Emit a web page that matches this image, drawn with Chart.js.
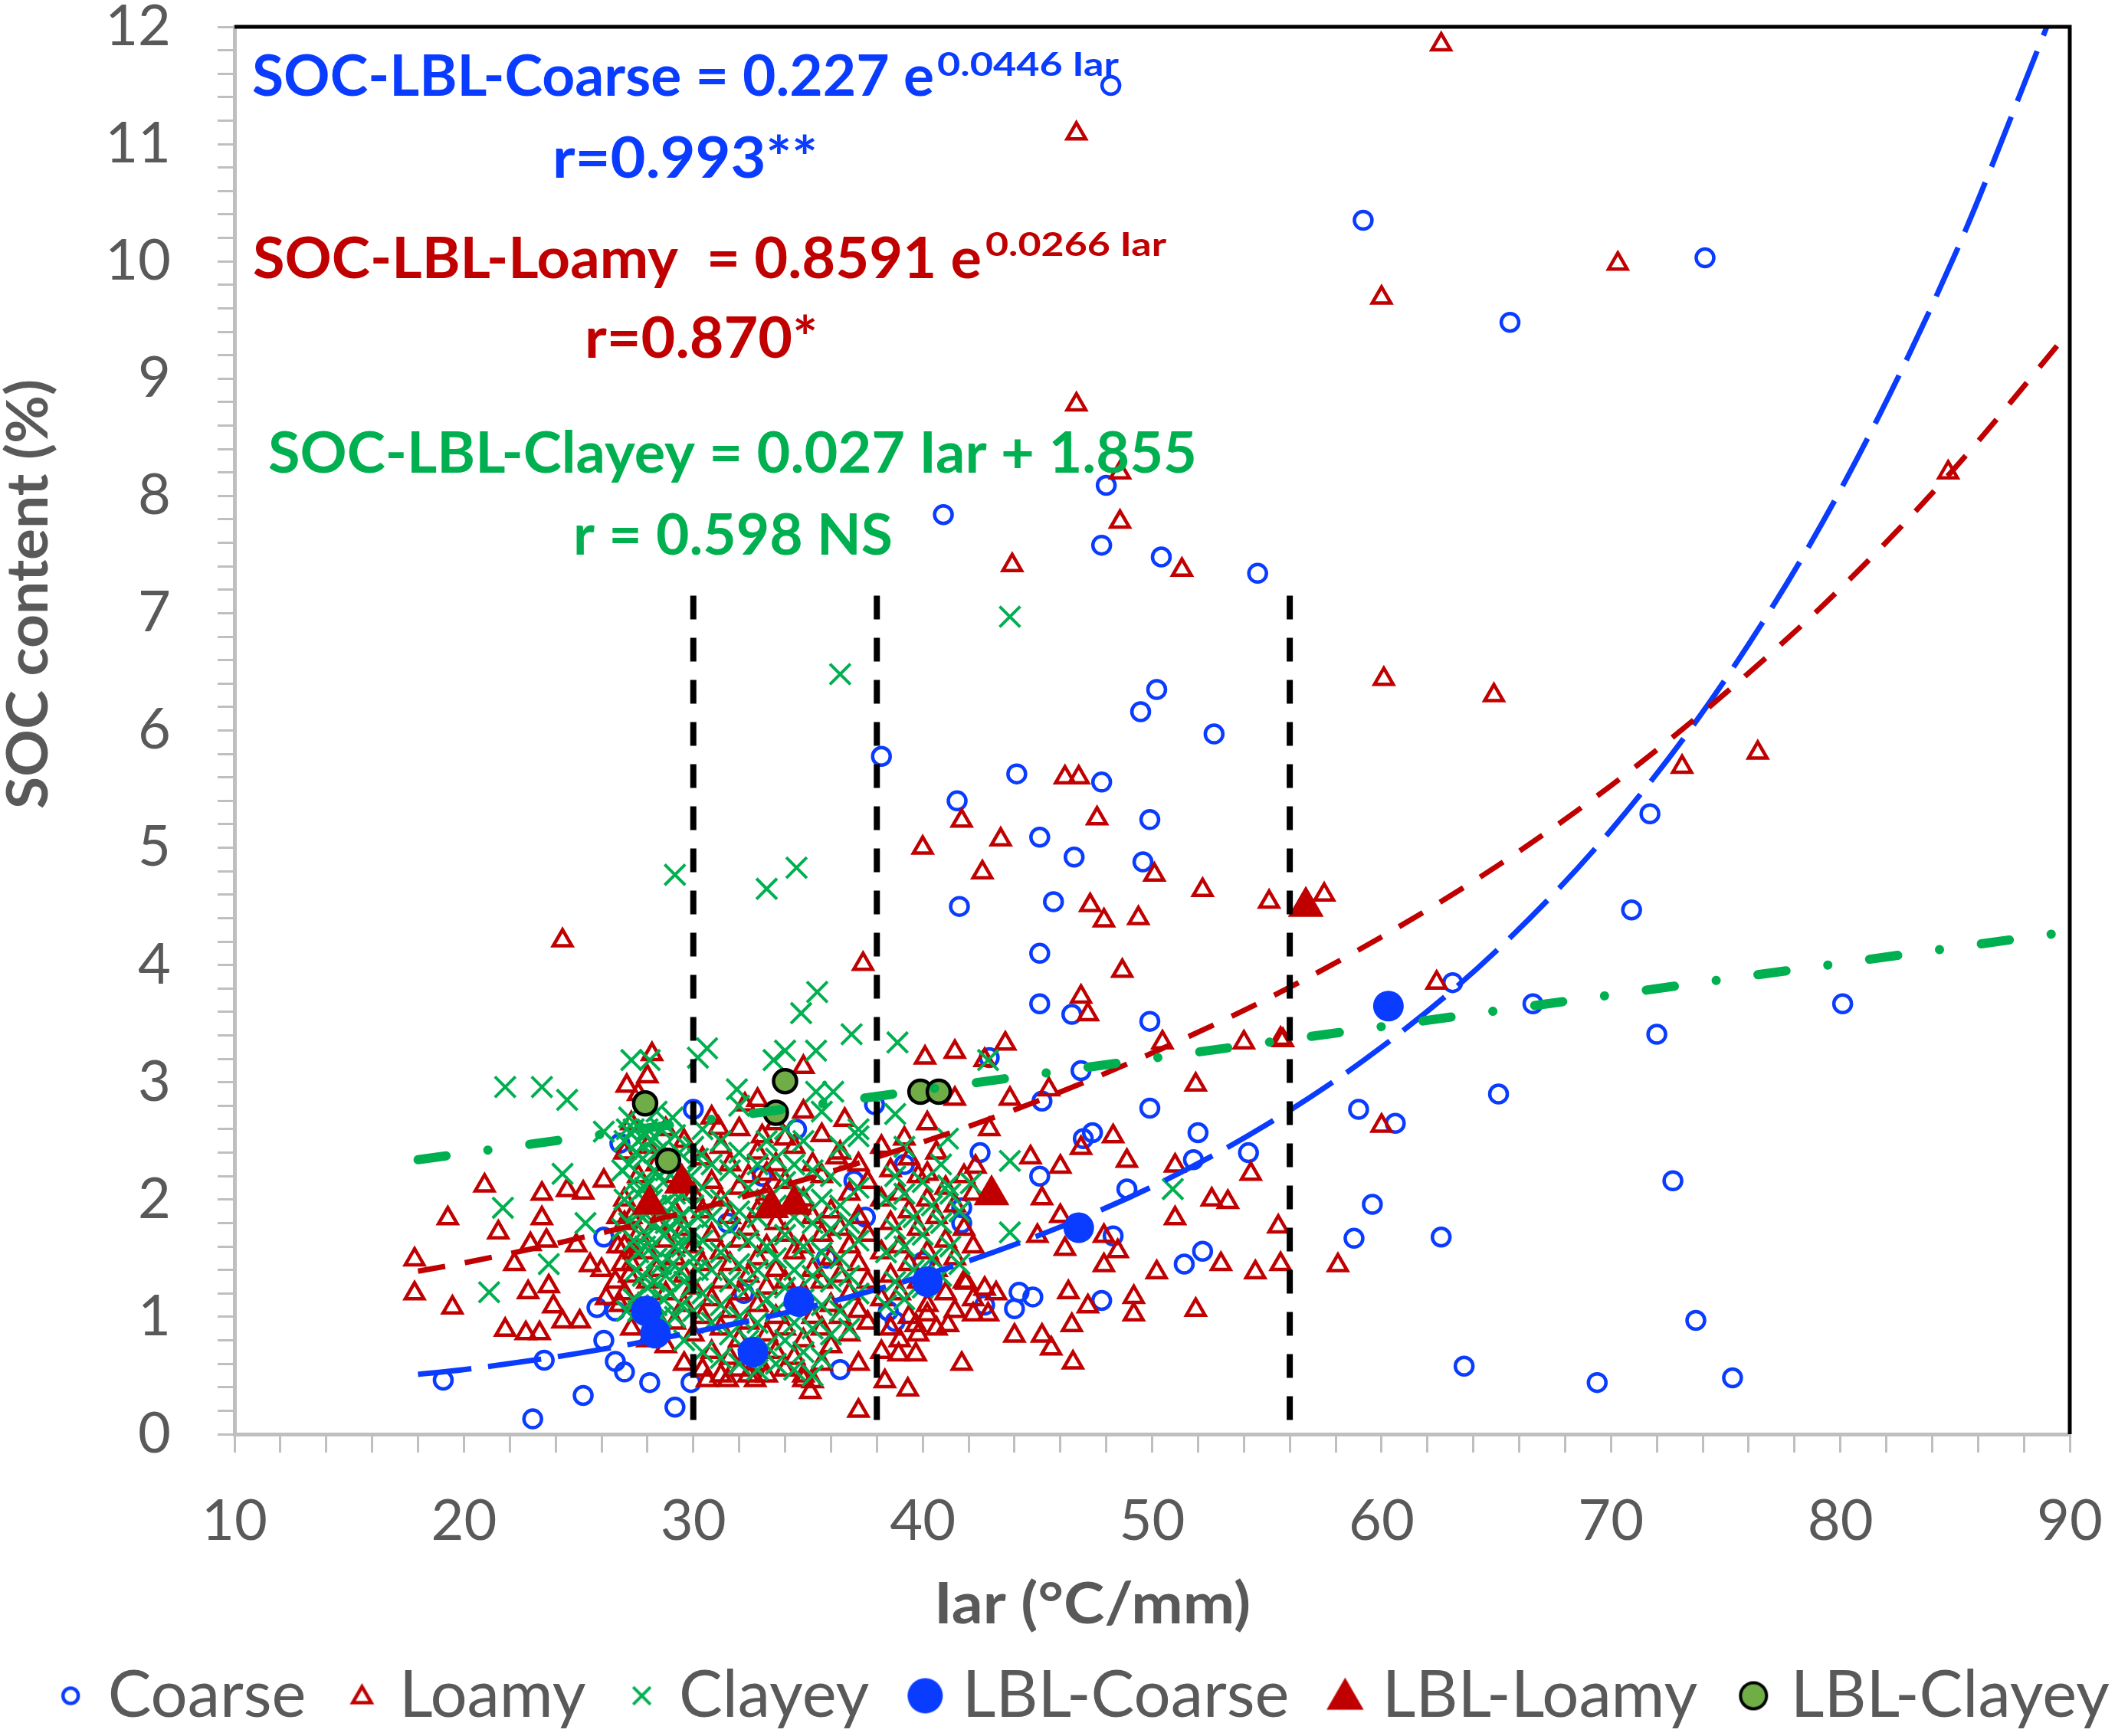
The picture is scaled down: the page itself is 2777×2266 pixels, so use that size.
<!DOCTYPE html>
<html>
<head>
<meta charset="utf-8">
<title>SOC content vs Iar</title>
<script src="https://cdn.jsdelivr.net/npm/chart.js@4.4.1/dist/chart.umd.min.js"></script>
<style>
  html, body { margin: 0; padding: 0; background: #fff; }
  #soc { display: block; }
</style>
</head>
<body>
<canvas id="soc" width="2777" height="2266"></canvas>
<script>
// ---- data: [Iar (°C/mm), SOC (%)] ----
const coarse = [
  [48.2,11.50],[59.2,10.35],[74.1,10.03],[65.6,9.48],[48.0,8.09],[40.9,7.84],[47.8,7.58],[50.4,7.48],[54.6,7.34],
  [38.2,5.78],[50.2,6.35],[49.5,6.16],[52.7,5.97],[41.5,5.40],[44.1,5.63],[47.8,5.56],[45.1,5.09],[49.9,5.24],
  [46.6,4.92],[49.6,4.88],[41.6,4.50],[45.7,4.54],[45.1,4.10],[45.1,3.67],[46.5,3.58],[49.9,3.52],[63.1,3.85],
  [66.6,3.67],[80.1,3.67],[72.0,3.41],[46.9,3.10],[49.9,2.78],[65.1,2.90],[59.0,2.77],[60.6,2.65],[47.0,2.52],
  [47.4,2.57],[52.0,2.57],[54.2,2.40],[51.8,2.34],[48.9,2.09],[72.7,2.16],[59.6,1.96],[58.8,1.67],[62.6,1.68],
  [71.7,5.29],[70.9,4.47],[52.2,1.56],[51.4,1.45],[48.3,1.69],[47.8,1.14],[44.8,1.17],[44.2,1.21],[44.0,1.07],
  [42.7,1.10],[73.7,0.97],[63.6,0.58],[69.4,0.44],[75.3,0.48],[45.1,2.20],[41.7,1.80],[41.7,1.93],[38.8,0.96],
  [37.0,2.16],[45.2,2.84],[42.9,3.21],[37.9,2.81],
  [19.1,0.46],[23.0,0.13],[23.5,0.63],[25.2,0.33],[25.8,1.08],[26.6,1.05],[26.1,0.80],[26.6,0.62],[27.0,0.53],
  [28.1,0.44],[29.2,0.23],[29.9,0.44],[26.1,1.68],[26.8,2.48],[30.0,2.77],
  [31.5,1.80],[33.0,2.20],[35.8,1.50],[37.5,1.85],[36.4,0.55],[40.0,1.47],[39.2,2.30],[32.2,1.20],[34.5,2.60],
  [42.5,2.40],[38.5,1.05]
];

const loamy = [
  [62.6,11.85],[46.7,11.09],[70.3,9.98],[60.0,9.69],[46.7,8.78],[48.6,8.20],[48.6,7.78],[43.9,7.41],[51.3,7.37],
  [60.1,6.44],[64.9,6.30],[84.7,8.20],[73.1,5.69],[76.4,5.81],[24.3,4.21],[37.4,4.01],[40.0,5.00],[41.7,5.23],
  [43.4,5.07],[46.2,5.60],[46.8,5.60],[47.6,5.25],[42.6,4.79],[50.1,4.77],[52.2,4.64],[55.1,4.54],[57.5,4.60],
  [47.3,4.51],[47.9,4.38],[49.4,4.40],[48.7,3.95],[46.9,3.73],[47.2,3.58],[62.4,3.85],[55.6,3.37],[50.45,3.34],
  [54.0,3.34],[55.7,3.36],[51.9,2.98],[60.0,2.63],[58.1,1.44],
  [40.1,3.21],[41.4,3.26],[43.6,3.33],[42.7,3.19],[43.8,2.86],[45.5,2.94],[41.4,2.86],[40.2,2.65],[42.9,2.60],
  [39.2,2.52],[48.3,2.54],[46.9,2.44],[48.9,2.33],[44.7,2.36],[46.0,2.28],[42.3,2.28],[40.2,2.22],[51.0,2.29],
  [54.3,2.22],[52.6,2.00],[53.3,1.98],[51.0,1.84],[55.5,1.77],[45.2,2.01],[46.0,1.86],[45.0,1.69],[46.2,1.58],
  [47.9,1.69],[48.5,1.56],[47.9,1.44],[50.2,1.38],[53.0,1.45],[54.5,1.38],[55.6,1.45],[46.35,1.21],[47.2,1.09],
  [49.2,1.17],[49.2,1.02],[51.9,1.06],[46.5,0.93],[45.2,0.84],[45.6,0.73],[44.0,0.84],[41.1,0.93],[39.7,0.93],
  [42.2,1.02],[42.85,1.02],[42.7,1.24],[43.2,1.20],[38.95,0.68],[39.7,0.68],[41.7,0.60],[46.55,0.61],[39.35,0.38],
  [38.35,0.45],[37.2,0.20],[40.2,1.02],[41.9,1.29],[36.6,2.68],[36.25,2.36],
  [20.9,2.12],[19.3,1.84],[17.85,1.49],[17.85,1.20],[19.5,1.08],[23.4,2.05],[23.4,1.84],[23.6,1.65],[22.9,1.62],
  [21.5,1.72],[22.2,1.45],[22.8,1.21],[23.7,1.26],[23.9,1.09],[24.3,0.96],[25.05,0.96],[21.8,0.89],[22.7,0.86],
  [23.3,0.86],[24.5,2.08],[25.2,2.06],[26.1,2.16],[24.9,1.61],[25.5,1.44],[26.0,1.40],[26.2,1.16],[28.2,3.24],
  [32.25,2.81],[34.8,3.13],[31.1,2.61],[33.0,2.54],[34.0,2.52],[33.2,2.22],[30.6,0.46],[31.5,0.46],[32.7,0.46],
  [35.1,0.36],[34.8,0.46],[27.1,2.97],
  [26.6,1.30],[26.7,1.60],[26.9,1.45],[27.0,1.80],[26.8,1.10],[27.2,1.35],[26.7,1.85],[27.4,1.55],
  [27.0,1.20],[27.0,1.60],[27.0,2.00],[27.0,2.40],[27.3,0.90],[27.3,1.45],[27.3,1.85],[27.3,2.65],
  [27.6,1.10],[27.6,1.70],[27.6,2.20],[27.6,2.90],[28.0,0.80],[28.0,1.30],[28.0,1.55],[28.0,2.45],[28.0,3.05],
  [28.4,1.00],[28.4,1.40],[28.4,1.80],[28.4,2.30],[28.8,0.75],[28.8,1.20],[28.8,1.65],[28.8,2.60],
  [29.2,0.95],[29.2,1.50],[29.2,1.90],[29.2,2.20],[29.6,0.60],[29.6,1.10],[29.6,1.35],[29.6,1.75],[29.6,2.50],
  [30.0,0.85],[30.0,1.25],[30.0,1.60],[30.0,2.05],[30.4,0.55],[30.4,1.00],[30.4,1.45],[30.4,1.90],[30.4,2.35],
  [30.8,0.70],[30.8,1.15],[30.8,1.70],[30.8,2.15],[30.8,2.70],[31.2,0.50],[31.2,0.90],[31.2,1.30],[31.2,1.55],
  [31.2,2.00],[31.2,2.45],[31.6,0.65],[31.6,1.05],[31.6,1.45],[31.6,1.85],[31.6,2.30],[32.0,0.55],[32.0,0.80],
  [32.0,1.20],[32.0,1.65],[32.0,2.10],[32.0,2.60],[32.4,0.50],[32.4,0.95],[32.4,1.35],[32.4,1.75],[32.4,2.20],
  [32.8,0.60],[32.8,1.10],[32.8,1.50],[32.8,1.90],[32.8,2.40],[32.8,2.85],[33.2,0.50],[33.2,0.85],[33.2,1.25],
  [33.2,1.60],[33.2,2.05],[33.6,0.70],[33.6,1.00],[33.6,1.40],[33.6,1.80],[33.6,2.30],[33.6,2.65],[34.0,0.55],
  [34.0,0.90],[34.0,1.30],[34.0,1.70],[34.0,2.15],[34.4,0.65],[34.4,1.15],[34.4,1.55],[34.4,1.95],[34.4,2.45],
  [34.8,0.50],[34.8,0.80],[34.8,1.20],[34.8,1.60],[34.8,2.00],[34.8,2.75],[35.2,0.45],[35.2,1.00],[35.2,1.40],
  [35.2,1.85],[35.2,2.30],[35.6,0.60],[35.6,0.90],[35.6,1.30],[35.6,1.70],[35.6,2.20],[35.6,2.55],[36.0,0.75],
  [36.0,1.10],[36.0,1.50],[36.0,1.90],[36.4,1.00],[36.4,1.35],[36.4,1.75],[36.4,2.40],[36.8,0.85],[36.8,1.20],
  [36.8,1.60],[36.8,2.05],[37.2,0.60],[37.2,1.05],[37.2,1.45],[37.2,1.85],[37.2,2.30],[37.6,0.95],[37.6,1.30],
  [37.6,1.70],[37.6,2.15],[38.2,0.70],[38.2,1.15],[38.2,1.55],[38.2,2.00],[38.2,2.45],[38.6,0.90],[38.6,1.35],
  [38.6,1.80],[38.6,2.25],[39.0,0.80],[39.0,1.20],[39.0,1.60],[39.0,2.05],[39.4,1.00],[39.4,1.45],[39.4,1.90],
  [39.4,2.35],[39.8,0.85],[39.8,1.30],[39.8,1.75],[39.8,2.20],[40.2,1.10],[40.2,1.55],[40.2,2.00],[40.6,0.90],
  [40.6,1.40],[40.6,1.85],[40.6,2.40],[41.0,1.20],[41.0,1.65],[41.0,2.10],[41.4,1.05],[41.4,1.50],[41.4,1.95],
  [41.8,1.30],[41.8,1.75],[41.8,2.20],[42.2,1.15],[42.2,1.60],[42.2,2.05]
];

const clayey = [
  [36.4,6.48],[43.8,6.97],[29.2,4.77],[33.2,4.65],[34.5,4.83],[35.4,3.77],[34.7,3.59],[36.9,3.41],[38.9,3.34],
  [30.6,3.29],[30.2,3.21],[33.5,3.19],[34.0,3.27],[35.35,3.27],[21.8,2.96],[23.4,2.96],[24.5,2.85],[27.3,3.19],
  [28.1,3.19],[24.3,2.22],[21.7,1.93],[23.7,1.45],[21.1,1.21],[25.3,1.80],[26.1,2.58],[31.9,2.94],[35.35,2.92],
  [36.1,2.92],[38.8,2.73],[37.2,2.54],[41.1,2.52],[42.85,3.19],[43.8,2.33],[41.1,2.12],[42.1,2.14],[43.8,1.72],
  [50.9,2.09],
  [26.9,1.75],[26.9,2.25],[27.1,1.05],[27.1,2.60],[27.5,1.40],[27.5,1.90],[27.5,2.40],[27.9,1.10],[27.9,1.60],
  [27.9,2.10],[27.9,2.55],[28.3,1.30],[28.3,1.80],[28.3,2.25],[28.7,1.15],[28.7,1.70],[28.7,2.15],[28.7,2.45],
  [29.1,1.45],[29.1,1.95],[29.1,2.70],[29.5,1.10],[29.5,1.60],[29.5,2.05],[29.9,1.25],[29.9,1.70],[29.9,2.20],
  [30.2,1.40],[30.2,1.85],[30.2,2.35],
  [27.0,2.00],[27.0,2.50],[27.2,1.80],[27.2,2.30],[27.2,2.70],[27.4,1.15],[27.4,1.65],
  [27.4,2.15],[27.4,2.60],[27.6,1.05],[27.6,1.55],[27.6,2.05],[27.6,2.50],[27.8,1.35],[27.8,1.85],[27.8,2.35],
  [28.0,1.25],[28.0,1.70],[28.0,2.15],[28.0,2.60],[28.2,1.60],[28.2,2.00],[28.2,2.50],[28.4,1.10],[28.4,1.50],
  [28.4,1.95],[28.4,2.40],[28.4,2.75],[28.6,1.00],[28.6,1.45],[28.6,1.95],[28.6,2.60],[28.8,1.35],[28.8,1.80],
  [28.8,2.25],[29.0,1.20],[29.0,1.75],[29.0,2.30],[29.2,1.00],[29.2,1.60],[29.2,2.05],[29.2,2.55],[29.4,1.40],
  [29.4,1.85],[29.4,2.40],[29.6,0.80],[29.6,1.30],[29.6,1.75],[29.6,2.20],[30.0,1.05],[30.0,1.50],[30.0,1.95],
  [30.0,2.45],[30.4,0.70],[30.4,1.20],[30.4,1.65],[30.4,2.10],[30.4,2.60],[30.8,0.95],[30.8,1.40],[30.8,1.85],
  [30.8,2.30],[31.2,0.65],[31.2,1.10],[31.2,1.55],[31.2,2.00],[31.2,2.50],[31.6,0.85],[31.6,1.30],[31.6,1.75],
  [31.6,2.25],[32.0,0.60],[32.0,1.00],[32.0,1.45],[32.0,1.90],[32.0,2.40],[32.0,2.80],[32.4,0.80],[32.4,1.25],
  [32.4,1.65],[32.4,2.10],[32.8,0.55],[32.8,0.95],[32.8,1.40],[32.8,1.85],[32.8,2.30],[33.2,0.75],[33.2,1.15],
  [33.2,1.60],[33.2,2.00],[33.2,2.50],[33.6,0.60],[33.6,1.05],[33.6,1.50],[33.6,1.95],[33.6,2.35],[34.0,0.80],
  [34.0,1.25],[34.0,1.70],[34.0,2.15],[34.0,2.60],[34.4,0.55],[34.4,0.95],[34.4,1.40],[34.4,1.85],[34.4,2.30],
  [34.8,0.70],[34.8,1.15],[34.8,1.60],[34.8,2.05],[34.8,2.50],[35.2,0.50],[35.2,0.90],[35.2,1.35],[35.2,1.80],
  [35.2,2.25],[35.6,0.65],[35.6,1.10],[35.6,1.55],[35.6,2.00],[35.6,2.75],[36.0,0.85],[36.0,1.30],[36.0,1.75],
  [36.0,2.20],[36.4,1.05],[36.4,1.50],[36.4,1.95],[36.4,2.45],[36.8,0.90],[36.8,1.35],[36.8,1.80],[37.2,1.20],
  [37.2,1.65],[37.2,2.10],[37.2,2.60],[38.4,1.10],[38.4,1.55],[38.4,2.00],[38.8,1.30],[38.8,1.75],[38.8,2.20],
  [39.2,1.15],[39.2,1.60],[39.2,2.05],[39.2,2.45],[39.6,1.40],[39.6,1.85],[40.0,1.25],[40.0,1.70],[40.0,2.15],
  [40.4,1.50],[40.4,1.95],[40.8,1.35],[40.8,1.80],[40.8,2.30],[41.2,1.60],[41.2,2.05],[41.6,1.45],[41.6,1.90]
];

const lblCoarse = [[27.95,1.05],[28.35,0.86],[32.6,0.70],[34.6,1.13],[40.2,1.30],[46.8,1.76],[60.3,3.65]];
const lblLoamy  = [[28.1,1.96],[29.5,2.14],[33.4,1.93],[34.4,1.96],[43.0,2.04],[56.7,4.50]];
const lblClayey = [[27.9,2.82],[28.9,2.33],[34.0,3.01],[33.6,2.74],[39.9,2.92],[40.7,2.92]];

// fitted trend lines
const coarseFitIar = [18, 20, 25, 30, 35, 40, 45, 50, 55, 60, 65, 70, 75, 80, 85, 89];
const coarseFitSoc = [0.51, 0.55, 0.69, 0.87, 1.08, 1.35, 1.69, 2.11, 2.64, 3.30, 4.12, 5.15, 6.44, 8.05, 10.06, 12.0];
const loamyFitIar  = [18, 20, 25, 30, 35, 40, 45, 50, 55, 60, 65, 70, 75, 80, 85, 90];
const loamyFitSoc  = [1.39, 1.46, 1.67, 1.91, 2.18, 2.49, 2.84, 3.25, 3.71, 4.24, 4.84, 5.53, 6.32, 7.21, 8.24, 9.41];
const clayeyFitIar = [18, 90];
const clayeyFitSoc = [2.34, 4.285];

// vertical class dividers
const dividerIar = [30, 38, 56];
const dividerTop = 7.15;

const iarTicks = [10, 20, 30, 40, 50, 60, 70, 80, 90];
const socTicks = [0, 1, 2, 3, 4, 5, 6, 7, 8, 9, 10, 11, 12];

const BLUE = '#0a3cff', RED = '#c00000', GREEN = '#00b050', OLIVE = '#70ad47';
const GREY = '#595959', AXIS = '#bfbfbf';

function toXY(arr) {
  return arr.map(p => ({ x: p[0], y: p[1] }));
}
function zipXY(xs, ys) {
  return xs.map((x, i) => ({ x: x, y: ys[i] }));
}

// legend icons: marker drawn off-centre inside a wider image to set its gap to the text
function legendIcon(kind, r, fill, stroke, lw) {
  const c = document.createElement('canvas');
  c.width = 124; c.height = 64;
  const g = c.getContext('2d');
  const x = 93, y = 32;
  g.beginPath();
  if (kind === 'circle') {
    g.arc(x, y, r, 0, Math.PI * 2);
  } else if (kind === 'triangle') {
    g.moveTo(x, y - r * 0.85); g.lineTo(x + r * 0.866, y + r * 0.65); g.lineTo(x - r * 0.866, y + r * 0.65); g.closePath();
  } else {
    const d = r * 0.7071;
    g.moveTo(x - d, y - d); g.lineTo(x + d, y + d);
    g.moveTo(x + d, y - d); g.lineTo(x - d, y + d);
  }
  if (fill) { g.fillStyle = fill; g.fill(); }
  if (stroke) { g.strokeStyle = stroke; g.lineWidth = lw; g.stroke(); }
  return c;
}
const legendIcons = [
  legendIcon('circle', 10, null, BLUE, 4.5),
  legendIcon('triangle', 14, null, RED, 4.5),
  legendIcon('cross', 16, null, GREEN, 4),
  legendIcon('circle', 23, BLUE, null, 0),
  legendIcon('triangle', 28, RED, null, 0),
  legendIcon('circle', 17, OLIVE, '#000', 4)
];

const notes = [
  { t: 'SOC-LBL-Coarse = 0.227 e', c: BLUE, x: 329, y: 125, w: 890, s: 74 },
  { t: '0.0446 Iar', c: BLUE, x: 1223, y: 99, w: 237, s: 42 },
  { t: 'r=0.993**', c: BLUE, x: 721, y: 232, w: 346, s: 74 },
  { t: 'SOC-LBL-Loamy  = 0.8591 e', c: RED, x: 330, y: 363, w: 951, s: 74 },
  { t: '0.0266 Iar', c: RED, x: 1286, y: 334, w: 236, s: 42 },
  { t: 'r=0.870*', c: RED, x: 763, y: 467, w: 304, s: 74 },
  { t: 'SOC-LBL-Clayey = 0.027 Iar + 1.855', c: GREEN, x: 350, y: 617, w: 1212, s: 74 },
  { t: 'r = 0.598 NS', c: GREEN, x: 748, y: 724, w: 417, s: 74 }
];

function fitText(ctx, str, x, y, w) {
  const m = ctx.measureText(str).width;
  ctx.save();
  ctx.translate(x, y);
  ctx.scale(w / m, 1);
  ctx.fillText(str, 0, 0);
  ctx.restore();
}

const textPlugin = {
  id: 'socText',
  afterDraw(chart) {
    const ctx = chart.ctx;
    const a = chart.chartArea;
    ctx.save();
    // black frame on top and right
    ctx.strokeStyle = '#000';
    ctx.lineWidth = 5;
    ctx.beginPath();
    ctx.moveTo(a.left, a.top);
    ctx.lineTo(a.right, a.top);
    ctx.lineTo(a.right, a.bottom);
    ctx.stroke();

    ctx.textBaseline = 'alphabetic';
    ctx.textAlign = 'left';
    notes.forEach(n => {
      ctx.font = 'bold ' + n.s + 'px Lato';
      ctx.fillStyle = n.c;
      fitText(ctx, n.t, n.x, n.y, n.w);
    });

    // axis titles
    ctx.fillStyle = GREY;
    ctx.font = 'bold 74px Lato';
    fitText(ctx, 'Iar (°C/mm)', 1219, 2119, 413);

    ctx.font = 'bold 75px Lato';
    ctx.save();
    ctx.translate(62, 1056);
    ctx.rotate(-Math.PI / 2);
    fitText(ctx, 'SOC content (%)', 0, 0, 561);
    ctx.restore();
    ctx.restore();
  }
};

const pointSet = (label, data, style, r, fill, stroke, bw, order) => ({
  label: label,
  data: toXY(data),
  showLine: false,
  pointStyle: style,
  pointRadius: r,
  pointBackgroundColor: fill,
  pointBorderColor: stroke,
  pointBorderWidth: bw,
  borderColor: stroke,
  backgroundColor: fill,
  order: order
});

const datasets = [
  pointSet('Coarse', coarse, 'circle', 11.5, 'rgba(0,0,0,0)', BLUE, 4.5, 9),
  pointSet('Loamy', loamy, 'triangle', 14, 'rgba(0,0,0,0)', RED, 4.5, 8),
  pointSet('Clayey', clayey, 'crossRot', 19, GREEN, GREEN, 4, 7),
  pointSet('LBL-Coarse', lblCoarse, 'circle', 20, BLUE, BLUE, 0, 6),
  pointSet('LBL-Loamy', lblLoamy, 'triangle', 27, RED, RED, 0, 5),
  pointSet('LBL-Clayey', lblClayey, 'circle', 15, OLIVE, '#000', 4.5, 4),
  {
    label: 'fit-coarse', data: zipXY(coarseFitIar, coarseFitSoc), showLine: true, pointRadius: 0,
    borderColor: BLUE, borderWidth: 7, borderDash: [70, 22], cubicInterpolationMode: 'monotone', order: 3
  },
  {
    label: 'fit-loamy', data: zipXY(loamyFitIar, loamyFitSoc), showLine: true, pointRadius: 0,
    borderColor: RED, borderWidth: 7, borderDash: [36, 26], cubicInterpolationMode: 'monotone', order: 2
  },
  {
    label: 'fit-clayey', data: zipXY(clayeyFitIar, clayeyFitSoc), showLine: true, pointRadius: 0,
    borderColor: GREEN, borderWidth: 12, borderDash: [37, 55, 0.1, 55], borderCapStyle: 'round', order: 1
  }
];
dividerIar.forEach(v => {
  datasets.push({
    label: 'divider-' + v, data: [{ x: v, y: dividerTop }, { x: v, y: 0 }], showLine: true, pointRadius: 0,
    borderColor: '#000', borderWidth: 8, borderDash: [31, 24], order: 0
  });
});

new Chart(document.getElementById('soc'), {
  type: 'scatter',
  data: { datasets: datasets },
  options: {
    responsive: false,
    devicePixelRatio: 1,
    animation: false,
    events: [],
    layout: { padding: { top: 35, left: 0, right: 0, bottom: 0 } },
    plugins: {
      tooltip: { enabled: false },
      legend: {
        position: 'bottom',
        labels: {
          usePointStyle: true,
          pointStyleWidth: 74,
          padding: 5,
          color: GREY,
          font: { family: 'Lato', size: 85 },
          generateLabels: chart => chart.data.datasets.slice(0, 6).map((ds, i) => ({
            text: ds.label,
            pointStyle: legendIcons[i],
            fillStyle: 'rgba(0,0,0,0)',
            strokeStyle: 'rgba(0,0,0,0)',
            lineWidth: 0,
            hidden: false,
            datasetIndex: i,
            fontColor: GREY,
            textAlign: 'left'
          }))
        }
      }
    },
    scales: {
      x: {
        type: 'linear',
        min: 10, max: 90,
        ticks: {
          stepSize: 2, autoSkip: false, maxRotation: 0, padding: 46,
          color: GREY, font: { family: 'Lato', size: 74 },
          callback: v => iarTicks.includes(v) ? String(v) : ''
        },
        grid: { drawOnChartArea: false, tickLength: 24, color: AXIS, lineWidth: 3 },
        border: { color: AXIS, width: 5 },
        afterFit: s => {
          s.height = 2266 - 1872 - (s.chart.legend ? s.chart.legend.height : 0);
          s.paddingLeft = 0; s.paddingRight = 0;
        }
      },
      y: {
        type: 'linear',
        min: 0, max: 12,
        ticks: {
          stepSize: 0.2, autoSkip: false, padding: 61,
          color: GREY, font: { family: 'Lato', size: 74 },
          callback: v => {
            const r = Math.round(v * 10) / 10;
            return socTicks.includes(r) ? String(r) : '';
          }
        },
        grid: { drawOnChartArea: false, tickLength: 22, color: AXIS, lineWidth: 3 },
        border: { color: AXIS, width: 5 },
        afterFit: s => { s.width = 306; s.paddingTop = 0; s.paddingBottom = 0; }
      },
      yR: {
        position: 'right',
        ticks: { display: false },
        grid: { display: false, drawTicks: false },
        border: { display: false },
        afterFit: s => { s.width = 76; }
      }
    }
  },
  plugins: [textPlugin]
});
</script>
</body>
</html>
